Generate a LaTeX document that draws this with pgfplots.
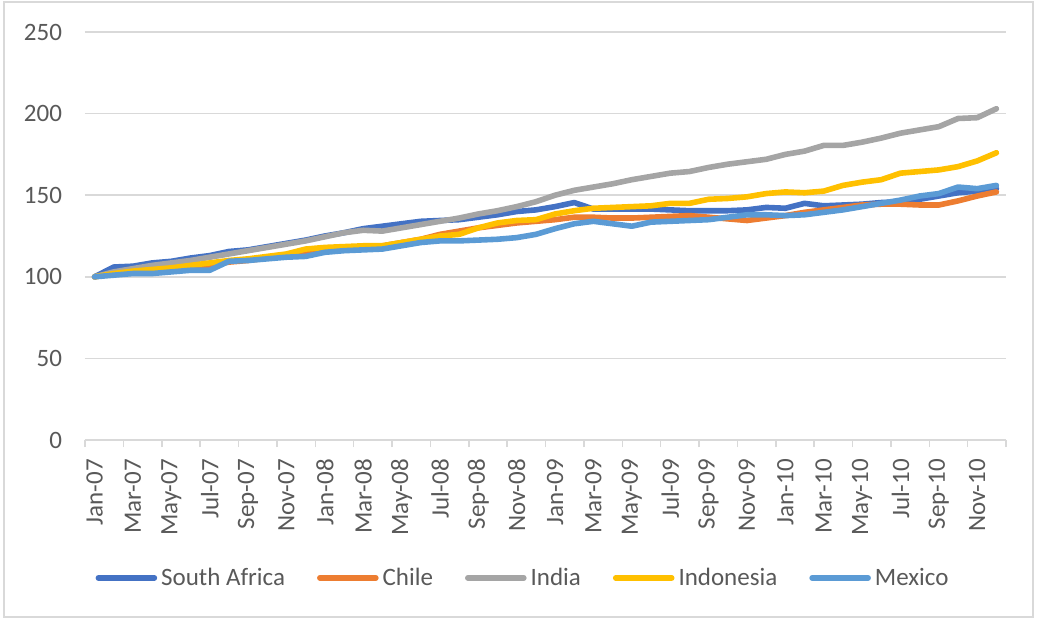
\documentclass[border=0pt]{standalone}
\usepackage{fontspec}
\setmainfont{Carlito}
\usepackage{pgfplots}
\usepackage{pgfplotstable}
\pgfplotsset{compat=1.18}

\definecolor{southafrica}{HTML}{4472C4}
\definecolor{chile}{HTML}{ED7D31}
\definecolor{india}{HTML}{A5A5A5}
\definecolor{indonesia}{HTML}{FFC000}
\definecolor{mexico}{HTML}{5B9BD5}
\definecolor{txt}{HTML}{595959}
\definecolor{gridc}{HTML}{D9D9D9}

% month index (0 = Jan-07), index values
\pgfplotstableread{
m   SA     CL     IN     ID     MX
0   100    100    100    100    100
1   106    102    103    102    101
2   106.5  103    105    103.5  102
3   108.5  104    107    104.5  102
4   109.5  105    108.5  105.5  103
5   111.5  106    110    107    104
6   113    107    112    108.5  104
7   115.5  109    114    110    109.5
8   116.5  110    116    111    110
9   118.5  111.5  118    112.5  111
10  120.5  113    120    114    112
11  122.5  115    122    117    112.5
12  125    116.5  124.5  118    115
13  127    117.5  127    118.5  116
14  129.5  118    128.5  119    116.5
15  131    119    128    119    117
16  132.5  121    130    121    119
17  134    123    132    123    121
18  134.5  126    134    125    122
19  135    128    136    126    122
20  136.5  130    138.5  130    122.5
21  138    131.5  140.5  133    123
22  140    133    143    134.5  124
23  141    134    146    135    126
24  143    135    150    138.5  129.5
25  145.5  136.5  153    140.5  132.5
26  141.5  136.5  155    142    134
27  141.5  136    157    142.5  132.5
28  141.5  136    159.5  143    131
29  141.5  136.5  161.5  143.5  133.5
30  141    137    163.5  145    134
31  140.5  137.5  164.5  145    134.5
32  140.5  136.5  167    147.5  135
33  140.5  135.5  169    148    136.5
34  141    134.5  170.5  149    138
35  142.5  136    172    151    138
36  142    137.5  175    152    137.5
37  145    139.5  177    151.5  138
38  143.5  141    180.5  152.5  139.5
39  144    142.5  180.5  156    141
40  144.5  144    182.5  158    143
41  145.5  144.5  185    159.5  145
42  146    144.5  188    163.5  147
43  147.5  144    190    164.5  149.5
44  149.5  144    192    165.5  151
45  151.5  146.5  197    167.5  155
46  152.5  149.5  197.5  171    154
47  154    152    203    176    156
}\indexdata

\begin{document}
\begin{tikzpicture}
\useasboundingbox (-42.5pt,-90.5pt) rectangle (476.5pt,220pt);
\draw[gridc, line width=0.6pt] (-40.5pt,-88.5pt) rectangle (474pt,219pt);
\begin{axis}[
    at={(0pt,0pt)}, anchor=south west,
    scale only axis,
    width=460.5pt, height=204pt,
    xmin=-0.5, xmax=47.5,
    ymin=0, ymax=250,
    ytick={0,50,100,150,200,250},
    xtick={0,2,...,46},
    xticklabels={Jan-07,Mar-07,May-07,Jul-07,Sep-07,Nov-07,Jan-08,Mar-08,May-08,Jul-08,Sep-08,Nov-08,Jan-09,Mar-09,May-09,Jul-09,Sep-09,Nov-09,Jan-10,Mar-10,May-10,Jul-10,Sep-10,Nov-10},
    minor xtick={-0.5,1.5,...,47.5},
    major tick length=0pt,
    minor tick length=3.5pt,
    tick align=outside,
    minor tick style={gridc, line width=0.75pt},
    axis x line*=bottom,
    axis y line*=left,
    y axis line style={draw=none},
    x axis line style={gridc, line width=0.75pt, -},
    ymajorgrids,
    grid style={gridc, line width=0.75pt},
    ticklabel style={font=\fontsize{12.5}{14}\selectfont, text=txt},
    /pgf/number format/assume math mode=true,
    xticklabel style={yshift=-6pt, rotate=90, anchor=east},
    yticklabel style={anchor=east, xshift=-8pt},
    legend style={at={(0.4767,-0.338)}, anchor=center, draw=none, fill=none,
        font=\fontsize{12.5}{14}\selectfont, text=txt,
        legend columns=5,
        /tikz/every even column/.append style={column sep=14pt}},
    legend image code/.code={\draw[#1, line width=2.8pt, line cap=round] (0pt,0pt) -- (28pt,0pt);},
    every axis plot/.append style={line width=2.8pt, line join=round, line cap=round, no markers},
]
\addplot[southafrica] table[x=m, y=SA] {\indexdata};
\addplot[chile] table[x=m, y=CL] {\indexdata};
\addplot[india] table[x=m, y=IN] {\indexdata};
\addplot[indonesia] table[x=m, y=ID] {\indexdata};
\addplot[mexico] table[x=m, y=MX] {\indexdata};
\legend{South Africa, Chile, India, Indonesia, Mexico}
\end{axis}
\end{tikzpicture}
\end{document}
